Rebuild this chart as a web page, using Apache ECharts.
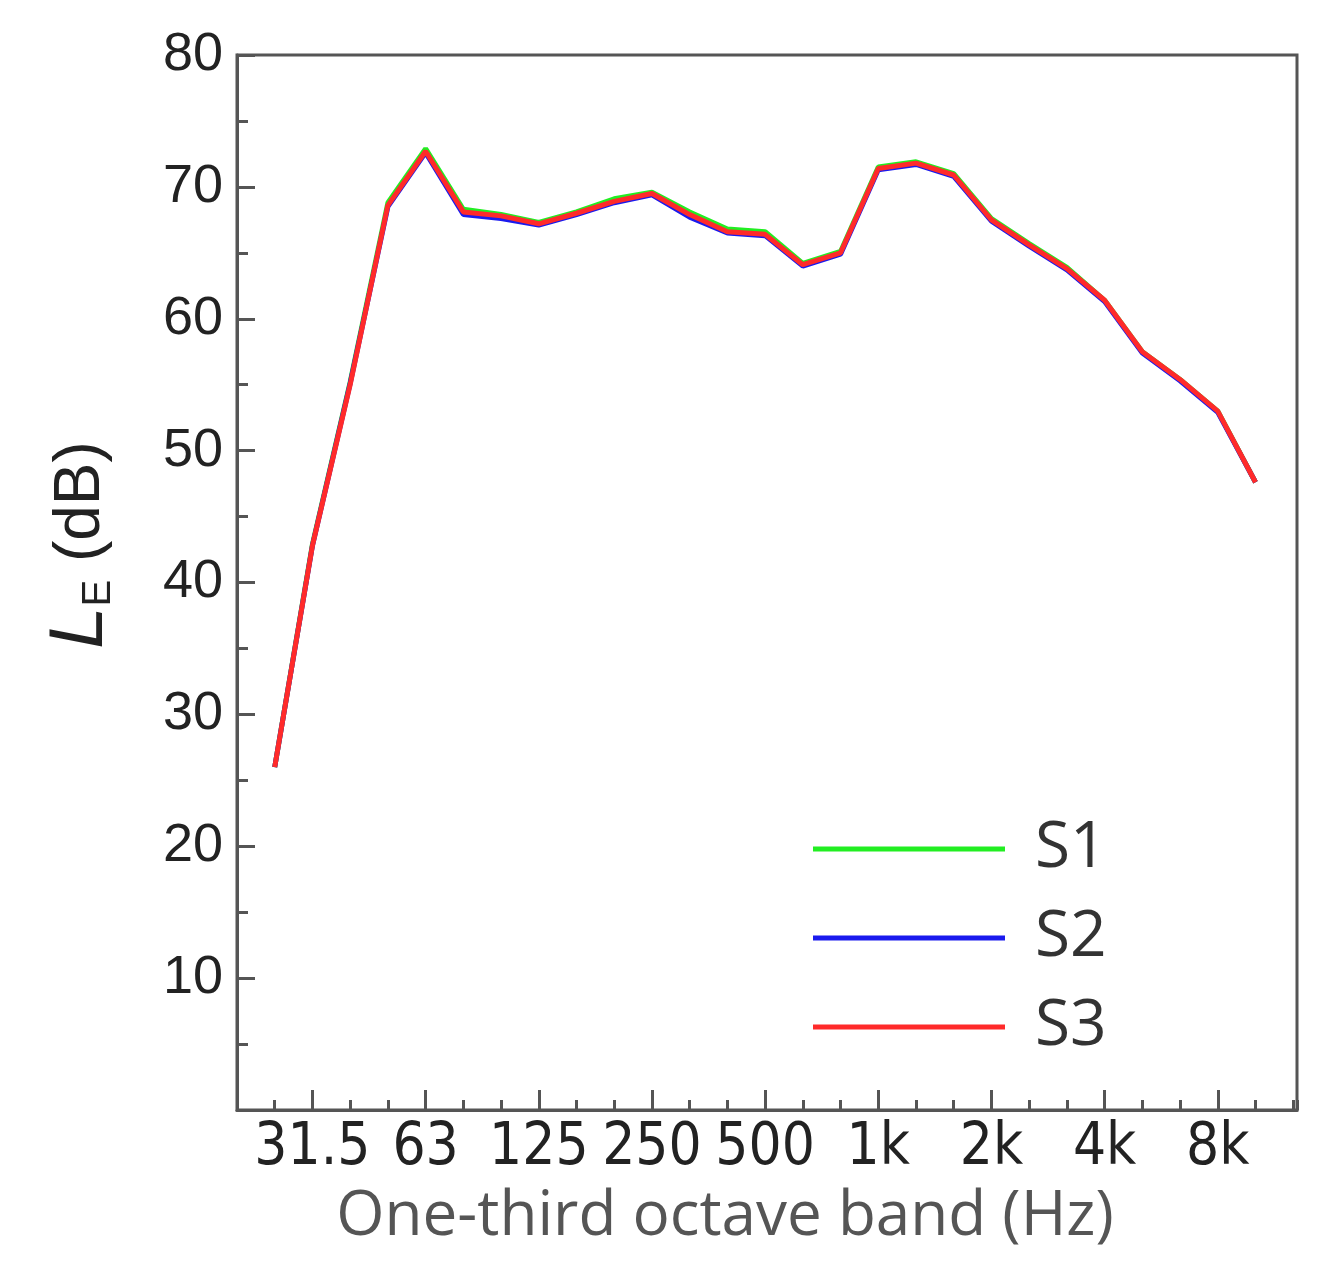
<!DOCTYPE html>
<html>
<head>
<meta charset="utf-8">
<script src="https://cdn.jsdelivr.net/npm/echarts@6/dist/echarts.min.js"></script>
<style>
  html, body { margin: 0; padding: 0; background: #fff; }
  #chart { width: 1321px; height: 1276px; }
</style>
</head>
<body>
<div id="chart"></div>
<script>
// one-third octave bands, 25 Hz .. 10 kHz
var bands = ['25', '31.5', '40', '50', '63', '80', '100', '125', '160', '200', '250', '315', '400',
    '500', '630', '800', '1k', '1.25k', '1.6k', '2k', '2.5k', '3.15k', '4k', '5k', '6.3k', '8k', '10k'];
var tickBands = ['31.5', '63', '125', '250', '500', '1k', '2k', '4k', '8k'];

// L_E (dB)
var s1 = [26.0, 42.9, 55.2, 68.8, 72.9, 68.3, 67.9, 67.3, 68.1, 69.1, 69.6, 68.1, 66.8, 66.6,
    64.2, 65.1, 71.5, 71.9, 71.0, 67.6, 65.7, 63.9, 61.4, 57.5, 55.4, 53.0, 47.6];
var s2 = [26.0, 42.8, 55.1, 68.5, 72.6, 67.9, 67.6, 67.1, 67.9, 68.8, 69.4, 67.7, 66.5, 66.3,
    64.0, 64.9, 71.3, 71.7, 70.8, 67.4, 65.5, 63.7, 61.3, 57.4, 55.3, 52.9, 47.6];
var s3 = [26.0, 42.8, 55.0, 68.6, 72.7, 68.1, 67.8, 67.2, 68.0, 68.9, 69.5, 67.9, 66.6, 66.4,
    64.1, 65.0, 71.4, 71.8, 70.9, 67.5, 65.6, 63.8, 61.4, 57.5, 55.4, 53.0, 47.6];

var myChart = echarts.init(document.getElementById('chart'));

function toPoints(arr) {
    return arr.map(function (v, i) { return [i, v]; });
}
var tickPos = tickBands.map(function (b) { return bands.indexOf(b); });

var axisCol = '#555';

option = {
    animation: false,
    backgroundColor: '#fff',
    grid: {
        left: 237, right: 24, top: 55, bottom: 166,
        show: true, borderColor: axisCol, borderWidth: 3
    },
    legend: {
        data: ['S1', 'S2', 'S3'],
        orient: 'vertical',
        left: 808,
        top: 812,
        icon: 'rect',
        itemWidth: 192,
        itemHeight: 5,
        itemGap: 25,
        textStyle: {
            fontFamily: 'Open Sans',
            fontSize: 64,
            lineHeight: 64,
            color: '#333',
            padding: [0, 0, 0, 25]
        }
    },
    xAxis: [{
        type: 'value',
        min: -1,
        max: 27.1,
        interval: 1,
        splitLine: {show: false},
        axisLine: {onZero: false, lineStyle: {color: axisCol, width: 3}},
        axisTick: {inside: true, length: 10, lineStyle: {color: axisCol, width: 3}},
        axisLabel: {show: false},
        name: 'One-third octave band (Hz)',
        nameLocation: 'middle',
        nameGap: 76,
        nameTextStyle: {
            fontFamily: 'Open Sans',
            fontSize: 62,
            color: '#555',
            padding: [0, 84, 0, 0]
        }
    }, {
        type: 'value',
        position: 'bottom',
        min: -1,
        max: 27.1,
        splitLine: {show: false},
        axisLine: {show: false, onZero: false},
        axisTick: {inside: true, length: 20, customValues: tickPos,
            lineStyle: {color: axisCol, width: 3}},
        axisLabel: {
            customValues: tickPos,
            margin: 10,
            fontFamily: 'Liberation Sans Narrow, Arial Narrow, DejaVu Sans Condensed, sans-serif',
            fontSize: 58,
            color: '#222',
            formatter: function (v) { return bands[Math.round(v)]; }
        }
    }],
    yAxis: {
        type: 'value',
        min: 0,
        max: 80,
        interval: 10,
        splitLine: {show: false},
        axisLine: {show: true, onZero: false, lineStyle: {color: axisCol, width: 3}},
        axisTick: {inside: true, length: 18, lineStyle: {color: axisCol, width: 3}},
        minorTick: {show: true, splitNumber: 2, length: 11, lineStyle: {color: axisCol, width: 3}},
        axisLabel: {
            margin: 14,
            fontFamily: 'Liberation Sans, Arial, sans-serif',
            fontSize: 54,
            color: '#222',
            formatter: function (v) { return v === 0 ? '' : v; }
        },
        name: '{i|L}{s|E} (dB)',
        nameLocation: 'middle',
        nameRotate: 90,
        nameGap: 118,
        nameTextStyle: {
            fontFamily: 'Liberation Sans, Arial, sans-serif',
            fontSize: 64,
            color: '#222',
            padding: [0, 0, 0, 75],
            rich: {
                i: {fontStyle: 'italic', fontSize: 76, fontFamily: 'Liberation Sans, Arial, sans-serif', color: '#222'},
                s: {fontSize: 40, fontFamily: 'Liberation Sans, Arial, sans-serif', color: '#222', padding: [36, 0, 0, 0]}
            }
        }
    },
    series: [{
        name: 'S1', type: 'line', data: toPoints(s1), symbol: 'none',
        lineStyle: {width: 5, color: '#22ee22'}, itemStyle: {color: '#22ee22'}
    }, {
        name: 'S2', type: 'line', data: toPoints(s2), symbol: 'none',
        lineStyle: {width: 5, color: '#1a1aee'}, itemStyle: {color: '#1a1aee'}
    }, {
        name: 'S3', type: 'line', data: toPoints(s3), symbol: 'none',
        lineStyle: {width: 5, color: '#ff2a2a'}, itemStyle: {color: '#ff2a2a'}
    }]
};
myChart.setOption(option);
</script>
</body>
</html>
